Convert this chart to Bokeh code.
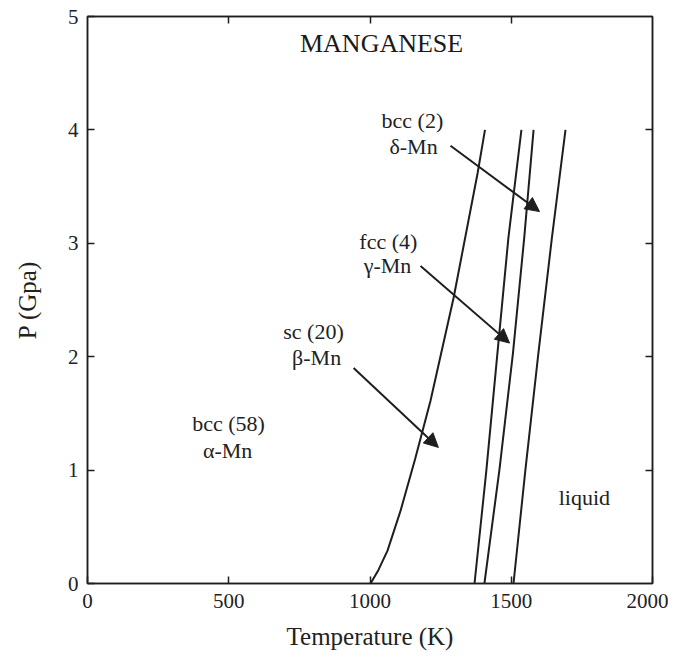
from bokeh.plotting import figure
from bokeh.models import (ColumnDataSource, Arrow, NormalHead, LinearAxis,
                          FixedTicker, Range1d)
from bokeh.core.properties import value
from bokeh.embed import file_html
from bokeh.resources import INLINE

# ---- data ----
x_ticks = [0, 500, 1000, 1500, 2000]
y_ticks = [0, 1, 2, 3, 4, 5]

# alpha/beta boundary
ab_T = [1002, 1030, 1062, 1108, 1160, 1214, 1296, 1381, 1407]
ab_P = [0.0, 0.12, 0.29, 0.64, 1.10, 1.61, 2.52, 3.62, 4.0]
# beta/gamma boundary
bg_T = [1370, 1412, 1451, 1490, 1536]
bg_P = [0.0, 1.0, 2.03, 3.05, 4.0]
# gamma/delta boundary
gd_T = [1405, 1458, 1506, 1546, 1579]
gd_P = [0.0, 1.0, 2.03, 3.05, 4.0]
# melting curve
melt_T = [1508, 1550, 1596, 1644, 1692]
melt_P = [0.0, 1.0, 2.03, 3.05, 4.0]

# arrows: tail (T, P) -> head (T, P)
arrow_T0 = [1285, 1179, 942]
arrow_P0 = [3.86, 2.80, 1.90]
arrow_T1 = [1600, 1494, 1242]
arrow_P1 = [3.28, 2.12, 1.20]

# phase labels
label_text = ["bcc (2)", "\u03b4-Mn", "fcc (4)", "\u03b3-Mn", "sc (20)", "\u03b2-Mn",
              "bcc (58)", "\u03b1-Mn", "liquid"]
label_T = [1150, 1154, 1065, 1062, 800, 811, 499, 496, 1759]
label_P = [4.08, 3.85, 3.02, 2.80, 2.22, 1.99, 1.41, 1.17, 0.76]

title_text = ["MANGANESE"]
title_T = [1041]
title_P = [4.76]

FONT = "Liberation Serif"
INK = "#1e1e1e"

p = figure(width=668, height=655, output_backend="svg", toolbar_location=None,
           x_range=Range1d(0, 2000), y_range=Range1d(0, 5),
           min_border_left=87, min_border_right=16, min_border_top=16,
           min_border_bottom=72)
p.grid.visible = False
p.background_fill_color = "white"
p.border_fill_color = "white"
p.outline_line_color = INK
p.outline_line_width = 1.5

for ax in p.xaxis + p.yaxis:
    ax.major_tick_in = 7
    ax.major_tick_out = 0
    ax.minor_tick_line_color = None
    ax.axis_line_color = INK
    ax.axis_line_width = 1.5
    ax.major_tick_line_color = INK
    ax.major_tick_line_width = 1.5
    ax.major_label_text_font = FONT
    ax.major_label_text_font_size = "21px"
    ax.major_label_text_color = "#222222"
    ax.axis_label_text_font = FONT
    ax.axis_label_text_font_size = "25px"
    ax.axis_label_text_font_style = "normal"
    ax.axis_label_text_color = "#222222"

p.xaxis.ticker = FixedTicker(ticks=x_ticks)
p.yaxis.ticker = FixedTicker(ticks=y_ticks)
p.xaxis.axis_label = "Temperature (K)"
p.yaxis.axis_label = "P (Gpa)"
p.xaxis.major_label_standoff = 10
p.yaxis.major_label_standoff = 9
p.xaxis.axis_label_standoff = 12
p.yaxis.axis_label_standoff = 24

# top / right axes with inward ticks, no labels
top = LinearAxis(ticker=FixedTicker(ticks=x_ticks[1:-1]),
                 major_label_overrides={t: "" for t in x_ticks[1:-1]})
right = LinearAxis(ticker=FixedTicker(ticks=y_ticks[1:-1]),
                   major_label_overrides={t: "" for t in y_ticks[1:-1]})
for ax in (top, right):
    ax.major_tick_in = 7
    ax.major_tick_out = 0
    ax.minor_tick_line_color = None
    ax.axis_line_color = INK
    ax.axis_line_width = 1.5
    ax.major_tick_line_color = INK
    ax.major_tick_line_width = 1.5
    ax.major_label_standoff = 0
p.add_layout(top, "above")
p.add_layout(right, "right")

for T, P in ((ab_T, ab_P), (bg_T, bg_P), (gd_T, gd_P), (melt_T, melt_P)):
    p.line(T, P, line_color=INK, line_width=2)

for x0, y0, x1, y1 in zip(arrow_T0, arrow_P0, arrow_T1, arrow_P1):
    p.add_layout(Arrow(x_start=x0, y_start=y0, x_end=x1, y_end=y1,
                       line_color=INK, line_width=2,
                       end=NormalHead(size=14, fill_color=INK, line_color=INK,
                                      line_width=1)))

src = ColumnDataSource(dict(x=label_T, y=label_P, t=label_text))
p.text(x="x", y="y", text="t", source=src, text_font=value(FONT),
       text_font_size="22px", text_color="#222222",
       text_align="center", text_baseline="middle")

tsrc = ColumnDataSource(dict(x=title_T, y=title_P, t=title_text))
p.text(x="x", y="y", text="t", source=tsrc, text_font=value(FONT),
       text_font_size="26px", text_color="#1a1a1a",
       text_align="center", text_baseline="middle")

open("out.html", "w").write(file_html(p, INLINE))
